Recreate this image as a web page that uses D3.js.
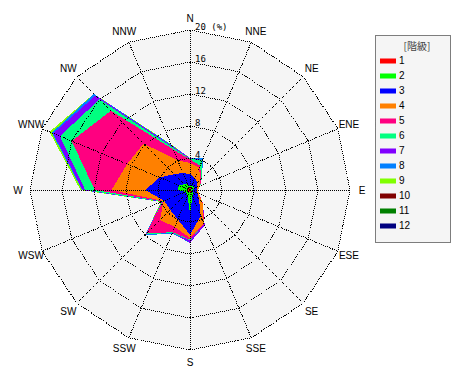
<!DOCTYPE html>
<html><head><meta charset="utf-8">
<script src="https://cdn.jsdelivr.net/npm/d3@7"></script>
<style>body{margin:0;background:#fff}svg{display:block}</style>
</head><body>
<svg id="chart" width="470" height="380"></svg>
<script>
const directions = ["N","NNE","NE","ENE","E","ESE","SE","SSE","S","SSW","SW","WSW","W","WNW","NW","NNW"];
const classLabels = ["1","2","3","4","5","6","7","8","9","10","11","12"];
const classColors = ["#ff0000","#00ff00","#0000ff","#ff8000","#ff0080","#00ff80","#8000ff","#0080ff","#80ff00","#800000","#008000","#000080"];
const ringTicks = [4,8,12,16,20];
// frequency (%) per class, per direction (N..NNW)
const class1  = [0.3,0.3,0.3,0.2,0.2,0.2,0.3,0.3,0.3,0.3,0.3,0.3,0.3,0.3,0.3,0.3];
const class2  = [0.2,0.3,0.5,0.3,0.2,0.2,0.2,0.5,2.7,0.5,0.3,0.3,1.2,1.2,0.7,0.5];
const class3  = [1.5,1.0,0.5,0.5,0.4,0.6,1.1,2.7,2.6,3.2,2.9,2.9,4.1,2.6,1.8,1.5];
const class4  = [1.4,1.4,0.5,0.3,0.2,0.2,0.6,1.0,0.4,1.0,1.8,0.1,4.2,4.4,5.4,1.7];
const class5  = [0.4,0.3,0.2,0.1,0.0,0.0,0.1,0.1,0.2,0.7,2.4,0.1,2.1,7.5,5.8,1.5];
const class6  = [0.1,0.7,0.1,0.0,0.0,0.0,0.0,0.0,0.1,0.1,0.15,0.05,1.2,1.6,2.0,0.3];
const class7  = [0.1,0.0,0.0,0.0,0.0,0.0,0.0,0.2,0.3,0.0,0.0,0.05,0.3,0.9,0.7,0.2];
const class8  = [0.0,0.3,0.0,0.0,0.0,0.0,0.0,0.0,0.0,0.1,0.15,0.05,0.1,0.2,0.3,0.1];
const class9  = [0.0,0.0,0.0,0.0,0.0,0.0,0.0,0.0,0.0,0.0,0.0,0.05,0.2,0.3,0.0,0.1];
const class10 = [0,0,0,0,0,0,0,0,0,0,0,0,0,0,0,0];
const class11 = [0,0,0,0,0,0,0,0,0,0,0,0,0,0,0,0];
const class12 = [0,0,0,0,0,0,0,0,0,0,0,0,0,0,0,0];
const classValues = [class1,class2,class3,class4,class5,class6,class7,class8,class9,class10,class11,class12];

const svg = d3.select("#chart");
const cx = 190, cy = 190;
const r = d3.scaleLinear().domain([0,20]).range([0,160]);
const angle = d3.scaleBand().domain(directions).range([0, 2*Math.PI]).align(0);
const ang = d => angle(d);
const g = svg.append("g").attr("transform", `translate(${cx},${cy})`);

const table = directions.map((d,i) => {
  const row = {dir: d};
  classLabels.forEach((c,k) => row[c] = classValues[k][i]);
  return row;
});
const stacked = d3.stack().keys(classLabels)(table);

const polyLine = d3.lineRadial().curve(d3.curveLinearClosed);
const ringPts = v => directions.map(d => [ang(d), r(v)]);

g.append("path").attr("d", polyLine(ringPts(20))).attr("fill", "#f5f5f5");

for (let k = stacked.length - 1; k >= 0; k--) {
  const pts = stacked[k].map(s => [ang(s.data.dir), r(s[1])]);
  g.append("path").attr("d", polyLine(pts)).attr("fill", classColors[k])
    .attr("shape-rendering", "crispEdges");
}

const dotted = sel => sel.attr("fill","none").attr("stroke","#000").attr("stroke-width",1)
  .attr("stroke-dasharray","1,1").attr("shape-rendering","crispEdges");
ringTicks.forEach(v => g.append("path").attr("d", polyLine(ringPts(v))).call(dotted));
directions.forEach(d => {
  const a = ang(d);
  g.append("line").attr("x1",0).attr("y1",0)
    .attr("x2", r(20)*Math.sin(a)).attr("y2", -r(20)*Math.cos(a)).call(dotted);
});

ringTicks.forEach(v => {
  g.append("text").attr("x", 5).attr("y", -r(v) - 3)
    .attr("font-family","DejaVu Sans Mono, monospace").attr("font-size", 9)
    .attr("dominant-baseline","central").attr("fill","#000")
    .text(v === 20 ? "20 (%)" : String(v));
});

directions.forEach(d => {
  const a = ang(d), rr = 172;
  g.append("text").attr("x", rr*Math.sin(a)).attr("y", -rr*Math.cos(a))
    .attr("text-anchor","middle").attr("dominant-baseline","central")
    .attr("font-family","Liberation Sans, Arial, sans-serif").attr("font-size", 10)
    .attr("fill","#000").text(d);
});

const lg = svg.append("g");
lg.append("rect").attr("x",375.5).attr("y",35.5).attr("width",75).attr("height",207)
  .attr("fill","#f5f5f5").attr("stroke","#000").attr("stroke-dasharray","1,1");
lg.append("text").attr("x",417).attr("y",45).attr("text-anchor","middle")
  .attr("dominant-baseline","central").attr("font-family","Noto Sans CJK JP, sans-serif")
  .attr("font-size",10).attr("fill","#444").text("[階級]");
const ly = d3.scalePoint().domain(classLabels).range([60.5, 225.5]);
classLabels.forEach((c,k) => {
  lg.append("rect").attr("x",380).attr("y",ly(c)-2).attr("width",16).attr("height",5)
    .attr("fill",classColors[k]);
  lg.append("text").attr("x",399).attr("y",ly(c)).attr("dominant-baseline","central")
    .attr("font-family","Liberation Sans, Arial, sans-serif").attr("font-size",10)
    .attr("fill","#000").text(c);
});
</script>
</body></html>
